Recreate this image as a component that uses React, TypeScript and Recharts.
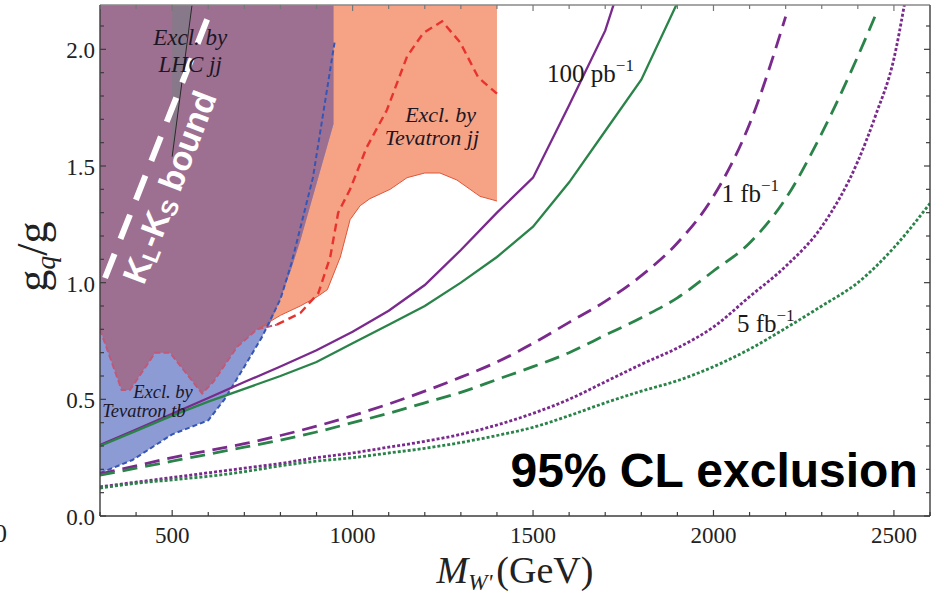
import React from "react";
import { ComposedChart, Line, Area, XAxis, YAxis, ReferenceDot } from "recharts";

type Pt = { x: number; y: number };

// reach curves: solid = 100 pb^-1, dashed = 1 fb^-1, dotted = 5 fb^-1
const purple100pb: Pt[] = [
  { x: 300, y: 0.304 }, { x: 400, y: 0.37 }, { x: 500, y: 0.438 }, { x: 600, y: 0.506 },
  { x: 700, y: 0.574 }, { x: 800, y: 0.641 }, { x: 900, y: 0.71 }, { x: 1000, y: 0.79 },
  { x: 1100, y: 0.88 }, { x: 1200, y: 0.99 }, { x: 1300, y: 1.14 }, { x: 1400, y: 1.3 },
  { x: 1500, y: 1.45 }, { x: 1600, y: 1.76 }, { x: 1700, y: 2.08 }, { x: 1725, y: 2.2 },
];
const green100pb: Pt[] = [
  { x: 300, y: 0.3 }, { x: 400, y: 0.365 }, { x: 500, y: 0.43 }, { x: 600, y: 0.49 },
  { x: 700, y: 0.545 }, { x: 800, y: 0.6 }, { x: 900, y: 0.66 }, { x: 1000, y: 0.74 },
  { x: 1100, y: 0.82 }, { x: 1200, y: 0.9 }, { x: 1300, y: 1.0 }, { x: 1400, y: 1.11 },
  { x: 1500, y: 1.24 }, { x: 1600, y: 1.43 }, { x: 1700, y: 1.65 }, { x: 1800, y: 1.87 },
  { x: 1900, y: 2.2 },
];
const purple1fb: Pt[] = [
  { x: 300, y: 0.18 }, { x: 400, y: 0.215 }, { x: 500, y: 0.25 }, { x: 600, y: 0.28 },
  { x: 700, y: 0.31 }, { x: 800, y: 0.345 }, { x: 900, y: 0.385 }, { x: 1000, y: 0.43 },
  { x: 1100, y: 0.48 }, { x: 1200, y: 0.535 }, { x: 1300, y: 0.595 }, { x: 1400, y: 0.66 },
  { x: 1500, y: 0.74 }, { x: 1600, y: 0.83 }, { x: 1700, y: 0.92 }, { x: 1800, y: 1.03 },
  { x: 1900, y: 1.17 }, { x: 2000, y: 1.37 }, { x: 2100, y: 1.68 }, { x: 2200, y: 2.14 },
];
const green1fb: Pt[] = [
  { x: 300, y: 0.175 }, { x: 400, y: 0.205 }, { x: 500, y: 0.235 }, { x: 600, y: 0.265 },
  { x: 700, y: 0.295 }, { x: 800, y: 0.325 }, { x: 900, y: 0.36 }, { x: 1000, y: 0.4 },
  { x: 1100, y: 0.44 }, { x: 1200, y: 0.485 }, { x: 1300, y: 0.53 }, { x: 1400, y: 0.585 },
  { x: 1500, y: 0.64 }, { x: 1600, y: 0.7 }, { x: 1700, y: 0.775 }, { x: 1800, y: 0.85 },
  { x: 1900, y: 0.935 }, { x: 2000, y: 1.05 }, { x: 2100, y: 1.17 }, { x: 2200, y: 1.36 },
  { x: 2300, y: 1.64 }, { x: 2400, y: 1.97 }, { x: 2450, y: 2.15 },
];
const purple5fb: Pt[] = [
  { x: 300, y: 0.125 }, { x: 400, y: 0.145 }, { x: 500, y: 0.165 }, { x: 600, y: 0.185 },
  { x: 700, y: 0.205 }, { x: 800, y: 0.225 }, { x: 900, y: 0.25 }, { x: 1000, y: 0.27 },
  { x: 1100, y: 0.295 }, { x: 1200, y: 0.32 }, { x: 1300, y: 0.35 }, { x: 1400, y: 0.39 },
  { x: 1500, y: 0.44 }, { x: 1600, y: 0.5 }, { x: 1700, y: 0.575 }, { x: 1800, y: 0.65 },
  { x: 1900, y: 0.72 }, { x: 2000, y: 0.81 }, { x: 2100, y: 0.94 }, { x: 2200, y: 1.07 },
  { x: 2300, y: 1.24 }, { x: 2400, y: 1.52 }, { x: 2450, y: 1.72 }, { x: 2500, y: 1.96 },
  { x: 2530, y: 2.2 },
];
const green5fb: Pt[] = [
  { x: 300, y: 0.12 }, { x: 400, y: 0.14 }, { x: 500, y: 0.155 }, { x: 600, y: 0.17 },
  { x: 700, y: 0.19 }, { x: 800, y: 0.215 }, { x: 900, y: 0.235 }, { x: 1000, y: 0.25 },
  { x: 1100, y: 0.27 }, { x: 1200, y: 0.29 }, { x: 1300, y: 0.315 }, { x: 1400, y: 0.345 },
  { x: 1500, y: 0.38 }, { x: 1600, y: 0.43 }, { x: 1700, y: 0.485 }, { x: 1800, y: 0.535 },
  { x: 1900, y: 0.58 }, { x: 2000, y: 0.64 }, { x: 2100, y: 0.715 }, { x: 2200, y: 0.805 },
  { x: 2300, y: 0.9 }, { x: 2400, y: 1.0 }, { x: 2500, y: 1.15 }, { x: 2600, y: 1.34 },
];

// excluded regions (lower edges, filled up to the top of the plot)
const tevJJEdge: Pt[] = [
  { x: 300, y: 0.8 }, { x: 360, y: 0.54 }, { x: 383, y: 0.54 }, { x: 453, y: 0.7 },
  { x: 494, y: 0.7 }, { x: 583, y: 0.525 }, { x: 614, y: 0.575 }, { x: 680, y: 0.725 },
  { x: 735, y: 0.8 }, { x: 800, y: 0.86 }, { x: 855, y: 0.9 }, { x: 902, y: 0.94 },
  { x: 930, y: 0.97 }, { x: 966, y: 1.11 }, { x: 993, y: 1.27 }, { x: 1021, y: 1.33 },
  { x: 1048, y: 1.36 }, { x: 1076, y: 1.38 }, { x: 1104, y: 1.4 }, { x: 1151, y: 1.45 },
  { x: 1200, y: 1.47 }, { x: 1242, y: 1.47 }, { x: 1289, y: 1.44 }, { x: 1353, y: 1.37 },
  { x: 1400, y: 1.35 },
];
const tevTbEdge: Pt[] = [
  { x: 300, y: 0.184 }, { x: 390, y: 0.24 }, { x: 450, y: 0.3 }, { x: 500, y: 0.35 },
  { x: 600, y: 0.41 }, { x: 645, y: 0.5 }, { x: 700, y: 0.64 }, { x: 750, y: 0.77 },
  { x: 800, y: 0.93 }, { x: 830, y: 1.06 }, { x: 855, y: 1.18 }, { x: 947, y: 1.68 },
];
const overlapEdge: Pt[] = [
  { x: 300, y: 0.8 }, { x: 360, y: 0.54 }, { x: 383, y: 0.54 }, { x: 453, y: 0.7 },
  { x: 494, y: 0.7 }, { x: 583, y: 0.525 }, { x: 614, y: 0.575 }, { x: 680, y: 0.725 },
  { x: 735, y: 0.8 }, { x: 770, y: 0.82 }, { x: 800, y: 0.93 }, { x: 830, y: 1.06 },
  { x: 855, y: 1.18 }, { x: 947, y: 1.68 },
];
const lhcJJEdge: Pt[] = [{ x: 500, y: 1.54 }, { x: 555, y: 2.19 }];

// expected limits (dashed)
const tevTbDashed: Pt[] = [
  { x: 300, y: 0.184 }, { x: 390, y: 0.24 }, { x: 450, y: 0.3 }, { x: 500, y: 0.35 },
  { x: 600, y: 0.41 }, { x: 645, y: 0.5 }, { x: 700, y: 0.64 }, { x: 750, y: 0.77 },
  { x: 800, y: 0.93 }, { x: 830, y: 1.08 }, { x: 890, y: 1.45 }, { x: 950, y: 2.03 },
];
const tevJJLowDashed: Pt[] = [
  { x: 300, y: 0.8 }, { x: 360, y: 0.54 }, { x: 383, y: 0.54 }, { x: 453, y: 0.7 },
  { x: 494, y: 0.7 }, { x: 583, y: 0.525 }, { x: 614, y: 0.575 }, { x: 680, y: 0.725 },
  { x: 735, y: 0.8 }, { x: 790, y: 0.82 },
];
const tevJJDashed: Pt[] = [
  { x: 790, y: 0.82 }, { x: 855, y: 0.87 }, { x: 905, y: 0.955 }, { x: 938, y: 1.11 },
  { x: 960, y: 1.3 }, { x: 993, y: 1.4 }, { x: 1039, y: 1.58 }, { x: 1095, y: 1.74 },
  { x: 1151, y: 1.97 }, { x: 1196, y: 2.07 }, { x: 1248, y: 2.12 }, { x: 1298, y: 2.03 },
  { x: 1348, y: 1.88 }, { x: 1400, y: 1.81 },
];
const klksBound: Pt[] = [{ x: 314, y: 1.02 }, { x: 605, y: 2.16 }];

const xTicks = [300, 400, 500, 600, 700, 800, 900, 1000, 1100, 1200, 1300, 1400, 1500, 1600, 1700, 1800, 1900, 2000, 2100, 2200, 2300, 2400, 2500, 2600];
const xLabels = [500, 1000, 1500, 2000, 2500];
const yTicks = [0, 0.1, 0.2, 0.3, 0.4, 0.5, 0.6, 0.7, 0.8, 0.9, 1, 1.1, 1.2, 1.3, 1.4, 1.5, 1.6, 1.7, 1.8, 1.9, 2, 2.1];
const yLabels = [0, 0.5, 1, 1.5, 2];

const serif = "'Liberation Serif', 'Times New Roman', serif";
const sans = "'Liberation Sans', Arial, sans-serif";
const purple = "#7a2a8c";
const green = "#2a8449";
const frame = "#3c3c3c";

const BottomTick = ({ x, y, payload }: any) => {
  const major = xLabels.includes(payload.value);
  return (
    <g>
      <line x1={x} x2={x} y1={y} y2={y - (major ? 6 : 4)} stroke={frame} strokeWidth={1.2} />
      {major && (
        <text x={x} y={y + 27} textAnchor="middle" fontFamily={serif} fontSize={23} fill="#222">
          {payload.value}
        </text>
      )}
    </g>
  );
};
const TopTick = ({ x, y, payload }: any) => (
  <line x1={x} x2={x} y1={y} y2={y + (xLabels.includes(payload.value) ? 6 : 4)} stroke="#777" strokeWidth={1.2} />
);
const LeftTick = ({ x, y, payload }: any) => {
  const major = yLabels.includes(payload.value);
  return (
    <g>
      <line x1={x} x2={x + (major ? 6 : 4)} y1={y} y2={y} stroke={frame} strokeWidth={1.2} />
      {major && (
        <text x={x - 5} y={y + 9} textAnchor="end" fontFamily={serif} fontSize={23} fill="#222">
          {payload.value.toFixed(1)}
        </text>
      )}
    </g>
  );
};
const RightTick = ({ x, y, payload }: any) => (
  <line x1={x} x2={x - (yLabels.includes(payload.value) ? 6 : 4)} y1={y} y2={y} stroke={frame} strokeWidth={1.2} />
);

const XLabel = ({ viewBox }: any) => (
  <text x={viewBox.x + viewBox.width / 2} y={viewBox.y + 67} textAnchor="middle" fontFamily={serif} fontSize={38} fill="#222">
    <tspan fontStyle="italic">M</tspan>
    <tspan fontStyle="italic" fontSize={23} dy={7}>W'</tspan>
    <tspan dy={-7} dx={4}>(GeV)</tspan>
  </text>
);
const YLabel = ({ viewBox }: any) => {
  const cx = 47;
  const cy = viewBox.y + viewBox.height / 2 - 4;
  return (
    <text x={cx} y={cy} transform={`rotate(-90 ${cx} ${cy})`} textAnchor="middle" fontFamily={serif} fontSize={44} fill="#222">
      g<tspan fontSize={28} fontStyle="italic" dy={8}>q</tspan>
      <tspan dy={-8}>/g</tspan>
    </text>
  );
};

const noteStyle = { fontFamily: serif, fontStyle: "italic" as const, fill: "#1c1626" };

const LhcNote = ({ cx, cy }: any) => (
  <text x={cx} y={cy} textAnchor="middle" fontSize={23} {...noteStyle}>
    <tspan x={cx}>Excl. by</tspan>
    <tspan x={cx} dy={27}>LHC jj</tspan>
  </text>
);
const TevJJNote = ({ cx, cy }: any) => (
  <text x={cx} y={cy} textAnchor="end" fontSize={22} {...noteStyle}>
    <tspan x={cx}>Excl. by</tspan>
    <tspan x={cx + 3} dy={23}>Tevatron jj</tspan>
  </text>
);
const TevTbNote = ({ cx, cy }: any) => (
  <text x={cx} y={cy} fontSize={18.5} {...noteStyle}>
    <tspan x={cx}>Excl. by</tspan>
    <tspan x={cx - 31} dy={19}>Tevatron tb</tspan>
  </text>
);
const lumiNote = (value: string, unit: string) => ({ cx, cy }: any) => (
  <text x={cx} y={cy} fontFamily={serif} fontSize={25} fill="#1a1a1a">
    {value} {unit}
    <tspan fontSize={17} dy={-11}>−1</tspan>
  </text>
);
const KlksNote = ({ cx, cy }: any) => (
  <text x={cx} y={cy} transform={`rotate(-68.8 ${cx} ${cy})`} textAnchor="middle" dominantBaseline="central"
    fontFamily={sans} fontWeight="bold" fontSize={34} fill="#fff">
    K<tspan fontSize={23} dy={8}>L</tspan>
    <tspan dy={-8}>-K</tspan>
    <tspan fontSize={23} dy={8}>S</tspan>
    <tspan dy={-8}> bound</tspan>
  </text>
);
const ClNote = ({ cx, cy }: any) => (
  <text x={cx} y={cy} textAnchor="end" fontFamily={sans} fontWeight="bold" fontSize={48} fill="#000">
    95% CL exclusion
  </text>
);

const curve = (data: Pt[], color: string, dash?: string, width = 2.3, smooth = false) => (
  <Line
    data={data}
    dataKey="y"
    xAxisId="b"
    yAxisId="l"
    type={smooth ? "monotone" : "linear"}
    stroke={color}
    strokeWidth={width}
    strokeDasharray={dash}
    dot={false}
    activeDot={false}
    isAnimationActive={false}
  />
);
const region = (data: Pt[], color: string, opacity = 1) => (
  <Area
    data={data}
    dataKey="y"
    xAxisId="b"
    yAxisId="l"
    type="linear"
    baseValue="dataMax"
    stroke="none"
    fill={color}
    fillOpacity={opacity}
    dot={false}
    activeDot={false}
    isAnimationActive={false}
  />
);
const note = (x: number, y: number, shape: any) => (
  <ReferenceDot x={x} y={y} xAxisId="b" yAxisId="l" r={0} ifOverflow="visible" shape={shape} />
);

export default function App() {
  return (
    <div style={{ position: "absolute", left: 0, top: 0, width: 934, height: 597, background: "#fff" }}>
      <ComposedChart width={934} height={597} margin={{ top: 0, right: 0, bottom: 0, left: 0 }}>
        <XAxis xAxisId="b" dataKey="x" type="number" domain={[300, 2600]} ticks={xTicks} interval={0}
          allowDataOverflow tickSize={0} tickMargin={0} tickLine={false} tick={<BottomTick />}
          axisLine={{ stroke: frame, strokeWidth: 1.4 }} height={81} label={XLabel} />
        <XAxis xAxisId="t" orientation="top" dataKey="x" type="number" domain={[300, 2600]} ticks={xTicks}
          interval={0} allowDataOverflow tickSize={0} tickMargin={0} tickLine={false} tick={<TopTick />}
          axisLine={{ stroke: "#888", strokeWidth: 1.4 }} height={5} />
        <YAxis yAxisId="l" type="number" domain={[0, 2.19]} ticks={yTicks} interval={0} allowDataOverflow
          tickSize={0} tickMargin={0} tickLine={false} tick={<LeftTick />}
          axisLine={{ stroke: frame, strokeWidth: 1.4 }} width={100} label={YLabel} />
        <YAxis yAxisId="r" orientation="right" type="number" domain={[0, 2.19]} ticks={yTicks} interval={0}
          allowDataOverflow tickSize={0} tickMargin={0} tickLine={false} tick={<RightTick />}
          axisLine={{ stroke: frame, strokeWidth: 1.4 }} width={4} />

        {region(tevJJEdge, "#f5a384")}
        {region(tevTbEdge, "#8d9bd5")}
        {region(overlapEdge, "#9d7091")}
        {region(lhcJJEdge, "#857a88", 0.85)}

        {curve(tevJJEdge.slice(8), "#e2553c", undefined, 1)}
        {curve(tevJJLowDashed, "#c05878", "6 3", 2)}
        {curve(tevJJDashed, "#e8322e", "8 5", 2.4)}
        {curve(tevTbDashed, "#3556b6", "5 3", 2)}
        {curve(lhcJJEdge, "#2a2a2a", undefined, 1)}
        {curve(klksBound, "#ffffff", "26 16", 6)}

        {curve(purple100pb, purple)}
        {curve(green100pb, green)}
        {curve(purple1fb, purple, "15 8", 2.8, true)}
        {curve(green1fb, green, "15 8", 2.8, true)}
        {curve(purple5fb, purple, "3 2", 2.8, true)}
        {curve(green5fb, green, "3 2", 2.8, true)}

        {note(550, 2.02, LhcNote)}
        {note(1342, 1.69, TevJJNote)}
        {note(392, 0.506, TevTbNote)}
        {note(492, 1.41, KlksNote)}
        {note(1539, 1.86, lumiNote("100", "pb"))}
        {note(2022, 1.346, lumiNote("1", "fb"))}
        {note(2065, 0.79, lumiNote("5", "fb"))}
        {note(2566, 0.124, ClNote)}
      </ComposedChart>
      <svg width={20} height={597} style={{ position: "absolute", left: 0, top: 0 }}>
        <text x={-6} y={542} fontFamily={serif} fontSize={26} fill="#222">0</text>
      </svg>
    </div>
  );
}
